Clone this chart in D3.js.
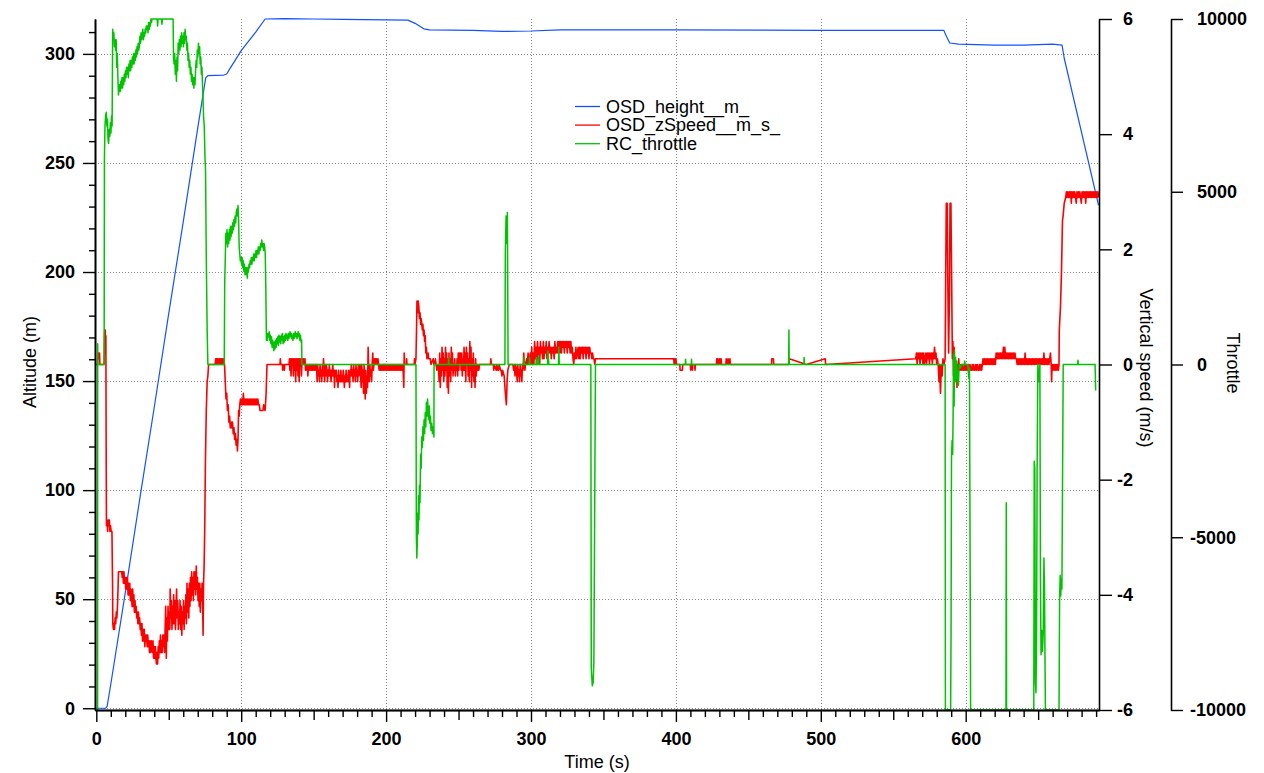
<!DOCTYPE html>
<html><head><meta charset="utf-8">
<script src="https://cdn.jsdelivr.net/npm/d3@7"></script>
<style>
html,body{margin:0;padding:0;background:#fff;}
svg{display:block;font-family:"Liberation Sans",Arial,Helvetica,sans-serif;}
</style></head><body>
<svg id="chart" width="1264" height="773"></svg>
<script>
// ---------------- DATA ----------------
const seriesNames = ["OSD_height__m_", "OSD_zSpeed__m_s_", "RC_throttle"];
const seriesColors = ["#1452ff", "#ff0000", "#00c400"];
const timeTicks = [0, 100, 200, 300, 400, 500, 600];
const altitudeTicks = [0, 50, 100, 150, 200, 250, 300];
const speedTicks = [-6, -4, -2, 0, 2, 4, 6];
const throttleTicks = [-10000, -5000, 0, 5000, 10000];

// [time s, altitude m]
const heightData = [[0,0],[6.5,0],[7.5,1],[10,11],[20,53],[30,96],[40,138],[50,181],[60,223],[70,266],[75.5,289],[77,290],[88,290.3],[90,290.8],[92,293],[100,301.5],[110,310],[116.5,316],[130,316.2],[150,316],[170,315.8],[200,315.6],[215,315.5],[220,314],[226,311.5],[230,311],[260,310.8],[280,310.3],[300,310.5],[320,311],[400,311],[500,310.8],[585,310.8],[586,309],[589,305],[595,304.5],[620,304],[640,304],[660,304.5],[666.5,304],[668,298],[691.7,230.6]];

// [time s, vertical speed m/s]
const zSpeedData = [[0,0],[0.9,0],[1.0,0.2],[1.3,0.1],[1.6,0.2],[1.9,0.1],[2.2,0.2],[2.5,0],[5.4,0],[5.6,0.4],[5.8,0.6],[6.0,0.3],[6.2,0.6],[6.4,0.2],[6.6,0.5],
[6.8,-1.4],[7.0,-2.8],[7.4,-2.7],[7.8,-2.9],[8.2,-2.7],[8.6,-2.8],[9.0,-2.7],[9.4,-2.9],[9.8,-2.8],[10.3,-2.9],[10.8,-2.9],
[11.2,-3.8],[11.4,-4.5],[11.8,-4.6],[12.2,-4.5],[12.6,-4.6],[13.0,-4.4],[13.4,-4.5],[13.8,-4.3],[14.2,-4.4],[14.6,-4.2],[15.0,-3.9],[15.3,-3.6],[16.0,-3.6],[16.8,-3.6],[17.5,-3.6],
[17.9,-3.7],[18.3,-3.6],[18.7,-3.8],[19.1,-3.6],[19.5,-3.8],[19.9,-3.7],[20.3,-3.9],[20.7,-3.7],[21.1,-3.9],[21.5,-3.7],[21.9,-4.0],[22.3,-3.8],[22.7,-4.0],[23.1,-3.8],[23.5,-4.1],[23.9,-3.9],[24.3,-4.0],[24.7,-4.2],[25.1,-3.9],[25.5,-4.2],[25.9,-4.0],[26.3,-4.3],[26.7,-4.1],[27.1,-4.3],[27.5,-4.2],[27.9,-4.4],[28.3,-4.3],[28.7,-4.5],[29.1,-4.3],[29.5,-4.5],[29.9,-4.4],[30.3,-4.6],[30.7,-4.5],[31.1,-4.7],[31.5,-4.5],[31.9,-4.8],[32.3,-4.6],[32.7,-4.8],[33.1,-4.6],[33.5,-4.9],[33.9,-4.7],[34.3,-4.8],[34.7,-4.7],[35.1,-4.9],[35.5,-4.7],[35.9,-4.9],[36.3,-4.8],[36.7,-5.0],[37.1,-4.8],[37.5,-5.0],[37.9,-4.8],[38.3,-4.9],[38.7,-5.0],[39.1,-4.8],[39.5,-5.1],[39.9,-4.9],[40.3,-5.1],[40.7,-4.9],[41.1,-5.1],[41.5,-5.2],[41.9,-5.0],[42.3,-5.2],[42.7,-4.9],[43.1,-5.1],[43.5,-4.8],[43.9,-5.0],[44.3,-4.7],[44.7,-5.0],[45.1,-4.8],[45.5,-5.0],[45.9,-4.7],[46.3,-4.9],[46.7,-4.7],[47.1,-5.0],[47.5,-4.6],[47.9,-4.2],[48.3,-5.1],[48.7,-4.4],[49.1,-4.8],[49.5,-4.2],[49.9,-4.6],[50.3,-4.3],[50.7,-4.6],[51.0,-3.9],[51.4,-4.4],[51.8,-4.1],[52.2,-4.6],[52.6,-4.2],[53.0,-4.5],[53.4,-4.0],[53.8,-4.5],[54.2,-4.1],[54.6,-4.6],[55.0,-4.2],[55.4,-3.9],[55.8,-4.4],[56.2,-4.1],[56.6,-4.6],[57.0,-4.3],[57.4,-4.5],[57.8,-4.1],[58.2,-4.6],[58.6,-4.2],[59.0,-4.7],[59.4,-4.3],[59.8,-4.5],[60.2,-4.1],[60.6,-4.6],[61.0,-4.2],[61.4,-4.4],[61.8,-4.0],[62.2,-4.5],[62.6,-3.8],[63.0,-4.3],[63.4,-3.9],[63.8,-4.4],[64.2,-3.8],[64.6,-4.2],[65.0,-3.7],[65.4,-4.1],[65.8,-3.6],[66.2,-4.0],[66.6,-3.7],[67.0,-4.1],[67.4,-3.6],[67.8,-3.9],[68.2,-3.6],[68.6,-4.0],[69.0,-3.5],[69.4,-3.9],[69.8,-3.7],[70.2,-4.1],[70.6,-3.8],[71.0,-4.2],[71.4,-3.8],[71.8,-4.3],[72.2,-3.9],[72.6,-4.1],[73.0,-3.8],[73.4,-4.2],[73.7,-4.7],[74.0,-3.8],[74.4,-3.5],[74.8,-2.9],[75.3,-1.7],[75.9,-0.8],[76.5,-0.3],[77.0,-0.2],[77.5,0],
[82.0,0],[82.4,0.1],[82.8,0],[83.2,0.1],[83.6,0],[84.0,0.1],[84.4,0],[84.8,0.1],[85.2,0],[85.6,0.1],[86.0,0],[86.4,0.1],[86.8,0],[87.2,0.1],[87.6,0],[88.0,0.1],[88.5,0],
[89.0,-0.3],[89.5,-0.6],[90.0,-0.5],[90.5,-0.8],[91.0,-0.7],[91.5,-1.0],[92.0,-0.9],[92.5,-1.1],[93.0,-1.0],[93.5,-1.1],[94.0,-1.0],[94.5,-1.2],[95.0,-1.1],[95.5,-1.3],[96.0,-1.2],[96.5,-1.4],[97.0,-1.3],[97.4,-1.5],[97.8,-1.3],[98.2,-0.8],[98.6,-0.9],[99.0,-0.7],[99.5,-0.6],[100.0,-0.7],[100.5,-0.6],[101.0,-0.7],[101.5,-0.5],[102.0,-0.7],[102.5,-0.6],[103.0,-0.7],[103.5,-0.6],[104.0,-0.7],[104.5,-0.6],[105.0,-0.7],[105.5,-0.6],[106.0,-0.7],[106.5,-0.6],[107.0,-0.7],[107.5,-0.6],[108.0,-0.7],[108.5,-0.6],[109.0,-0.7],[109.5,-0.6],[110.0,-0.7],[110.5,-0.6],[111.0,-0.7],[111.5,-0.6],[112.0,-0.7],[112.5,-0.7],[113.0,-0.8],[114.0,-0.8],[115.0,-0.8],[115.5,-0.7],[116.5,-0.8],[117.2,-0.5],[117.8,0],
[126.8,0],[127.0,0.1],[127.3,0],[128.4,0],[128.6,-0.1],[128.9,0],[129.8,-0.1],[130.1,0],[133.0,0],[133.3,0.1],[133.6,-0.1],[134.0,0.1],[134.4,-0.2],[134.8,0.1],[135.2,0],[135.6,0.1],[136.0,-0.2],[136.4,0.1],[136.8,-0.1],[137.2,0.1],[137.6,-0.3],[138.0,0.1],[138.4,-0.1],[138.8,0.1],[139.2,-0.2],[139.6,0.1],[140.0,-0.3],[140.4,0.1],[140.8,0],[141.2,0.1],[141.6,-0.2],[142.0,0.1],[142.4,0.1],[142.8,0],[143.2,0.1],[143.6,0],[144.0,0.1],[144.4,-0.1],[144.8,0],[145.2,-0.1],[145.6,0],[146.0,-0.2],[146.4,0],[146.8,-0.1],[147.2,0],[147.6,-0.1],[148.0,0],[148.4,-0.1],[148.8,0],[149.2,-0.1],[149.6,0],[150.0,-0.1],[150.4,0],[150.8,-0.1],[151.2,0],[151.6,-0.1],[152.0,0],[152.4,-0.3],[152.8,0],[153.2,-0.2],[153.6,-0.1],[154.0,-0.3],[154.4,0],[154.8,-0.2],[155.2,-0.1],[155.6,-0.3],[156.0,0],[156.4,-0.2],[156.8,0.1],[157.2,-0.1],[157.6,-0.3],[158.0,0],[158.4,-0.2],[158.8,0],[159.2,-0.1],[159.6,-0.3],[160.0,-0.1],[160.4,-0.2],[160.8,0],[161.2,-0.2],[161.6,-0.1],[162.0,-0.3],[162.4,-0.1],[162.8,-0.2],[163.2,0],[163.6,-0.2],[164.0,-0.1],[164.4,-0.4],[164.8,-0.1],[165.2,-0.2],[165.6,-0.1],[166.0,-0.3],[166.4,-0.2],[166.8,-0.4],[167.2,-0.1],[167.6,-0.3],[168.0,-0.2],[168.4,-0.3],[168.8,-0.1],[169.2,-0.3],[169.6,-0.2],[170.0,-0.3],[170.4,-0.1],[170.8,-0.2],[171.2,-0.4],[171.6,-0.2],[172.0,-0.3],[172.4,-0.1],[172.8,-0.3],[173.2,-0.2],[173.6,-0.3],[174.0,-0.1],[174.4,-0.2],[174.8,-0.4],[175.2,-0.1],[175.6,-0.2],[176.0,0],[176.4,-0.2],[176.8,-0.1],[177.2,-0.3],[177.6,0],[178.0,-0.2],[178.4,-0.1],[178.8,-0.3],[179.2,0],[179.6,-0.2],[180.0,-0.1],[180.4,-0.3],[180.8,0],[181.2,-0.2],[181.6,-0.1],[182.0,0],[182.4,-0.2],[182.8,-0.4],[183.2,0],[183.6,-0.3],[184.0,-0.1],[184.4,-0.5],[184.8,0],[185.2,-0.3],[185.6,-0.6],[186.0,-0.1],[186.4,-0.5],[186.8,-0.2],[187.2,-0.4],[187.6,0.3],[188.0,-0.1],[188.4,-0.3],[188.8,0],[189.2,-0.2],[189.6,-0.1],[190.0,-0.3],[190.4,0],[190.8,0.2],[191.2,-0.1],[191.6,0],[192.0,0.1],[192.4,0],[192.8,0.1],[193.2,0],[193.6,0.1],[194.0,0],[194.4,0.1],[194.8,0],
[195.2,-0.1],[195.6,0],[196.0,-0.1],[196.4,0],[196.8,-0.1],[197.2,0],[197.6,-0.1],[198.0,0],[198.4,-0.1],[198.8,0],[199.2,-0.1],[199.6,0],[200.0,-0.1],[200.4,0],[200.8,-0.1],[201.2,0],[201.6,-0.1],[202.0,0],[202.4,-0.1],[202.8,0],[203.2,-0.1],[203.6,0],[204.0,-0.1],[204.4,0],[204.8,-0.1],[205.2,0],[205.6,-0.1],[206.0,0],[206.4,-0.1],[206.8,0],[207.2,-0.1],[207.6,0],[208.0,-0.1],[208.4,0],[208.8,-0.1],[209.2,0],[209.6,-0.1],[210.0,0],[210.4,-0.1],[210.8,0],[211.2,-0.1],[211.6,0],[212.2,-0.4],[212.5,0.2],[212.8,0],[214.0,0],[214.2,0.1],[214.4,0],[219.4,0],[219.6,0.1],[219.9,0],[220.6,0.1],[221.0,0.6],[221.3,1.1],[221.8,0.9],[222.2,1.1],[222.6,1.0],[223.0,0.8],[223.4,0.9],[223.8,0.7],[224.2,0.8],[224.6,0.7],[225.0,0.6],[225.4,0.7],[225.8,0.5],[226.2,0.6],[226.6,0.4],[227.0,0.5],[227.4,0.2],[227.8,0.3],[228.2,0.1],[229.0,0.2],[229.4,0.1],[230.5,0.1],[231.0,0],[232.5,0.1],[233.0,0],
[233.5,0],[234.0,0.1],[234.5,0],[235.0,-0.1],[235.5,0],[236.0,0],[236.6,-0.3],[237.0,0.2],[237.4,-0.4],[237.8,0.1],[238.2,-0.2],[238.6,0.3],[239.0,-0.1],[239.4,0.2],[239.8,-0.3],[240.2,0.1],[240.6,-0.2],[241.0,0.3],[241.4,-0.1],[241.8,0.2],[242.2,-0.4],[242.6,0.1],[243.0,-0.5],[243.4,0.2],[243.8,-0.2],[244.2,0.1],[244.6,-0.3],[245.0,0.3],[245.4,-0.1],[245.8,0.2],[246.2,-0.2],[246.6,0],[247.0,-0.1],[247.4,0.1],[247.8,-0.2],[248.2,0],[248.6,-0.1],[249.0,0.1],[249.4,-0.2],[249.8,0.2],[250.2,-0.1],[250.6,0.2],[251.0,0],[251.4,0.2],[251.8,-0.1],[252.2,0.2],[252.6,-0.2],[253.0,0.1],[253.4,-0.1],[253.8,0.3],[254.2,-0.1],[254.6,0.2],[255.0,-0.3],[255.4,0.3],[255.8,0],[256.2,0.2],[256.6,-0.2],[257.0,0.1],[257.4,-0.3],[257.8,0.4],[258.2,-0.1],[258.6,0.3],[259.0,-0.4],[259.4,0.1],[259.8,-0.2],[260.2,0.2],[260.6,-0.3],[261.0,0],[261.4,-0.4],[261.8,0.1],[262.2,-0.2],[262.6,0],[263.0,-0.1],[263.4,0],[264.0,-0.1],[264.5,0],
[272.0,0],[272.3,0.1],[272.6,0],[274.0,0],[274.3,-0.1],[274.6,0],[276.0,-0.1],[276.4,0],[277.2,-0.1],[277.6,-0.1],[278.0,0],[279.0,-0.1],[279.4,-0.1],[280.0,-0.2],[280.4,-0.1],[281.5,-0.2],[282.3,-0.5],[283.0,-0.7],[283.5,-0.3],[284.0,-0.1],[285.0,0],[287.5,0],[288.0,-0.1],[288.4,0],[289.0,-0.2],[289.4,0],[290.0,-0.1],[290.5,-0.3],[290.9,0],[291.3,-0.2],[291.7,-0.1],[292.1,-0.3],[292.5,0],[292.9,-0.2],[293.3,-0.1],[293.7,-0.3],[294.1,0],[294.5,-0.1],[295.0,0.2],[295.4,0],[295.8,-0.1],[296.2,0],[297.0,0.1],[297.4,0],[298.0,0.2],[298.4,0],[299.0,0.1],[299.5,0.2],[300.0,0],[300.5,0.3],[301.0,0],[301.5,0.2],[302.0,0],[302.5,0.4],[303.0,0.1],[303.5,0.3],[304.0,0],[304.5,0.4],[305.0,0.1],[305.5,0.3],[306.0,0],[306.5,0.4],[307.0,0.2],[307.5,0.3],[308.0,0.1],[308.5,0.4],[309.0,0.1],[309.5,0.3],[310.0,0.2],[310.5,0.4],[311.0,0.1],[311.5,0.3],[312.0,0.2],[312.5,0.4],[313.0,0.2],[313.5,0.3],[314.0,0.1],[314.5,0.3],[315.0,0.2],[315.5,0.3],[316.0,0.1],[316.5,0.4],[317.0,0.2],[317.5,0.3],[318.0,0.2],[318.5,0.4],[319.0,0.2],[319.5,0.4],[320.0,0.2],[320.5,0.4],[321.0,0.2],[321.5,0.4],[322.0,0.3],[322.5,0.4],[323.0,0.2],[323.5,0.4],[324.0,0.3],[324.5,0.4],[325.0,0.2],[325.5,0.4],[326.0,0.3],[326.5,0.4],[327.0,0.2],[327.5,0.4],[328.0,0.2],[328.5,0.3],[329.0,0.1],[329.5,0],[330.0,0.2],[330.5,0.1],[331.0,0.3],[331.5,0.1],[332.0,0.2],[332.5,0.3],[333.0,0.1],[333.5,0.3],[334.0,0.1],[334.5,0.3],[335.0,0.2],[335.5,0.3],[336.0,0.1],[336.5,0.3],[337.0,0.2],[337.5,0.3],[338.0,0.1],[338.5,0.3],[339.0,0.2],[339.5,0.3],[340.0,0.1],[340.5,0.3],[341.0,0.2],[341.5,0.2],[342.0,0.1],[342.5,0.2],[343.0,0.1],[343.5,0.1],[344.0,0],[344.5,0.1],
[398.5,0.1],[398.8,0],[399.2,0.1],[399.6,0],[400.0,0.1],[400.4,0],[402.7,0],[402.9,-0.1],[404.5,-0.1],[404.7,0],[410.0,0],[410.2,-0.1],[410.5,0],[411.2,0],[411.4,-0.1],[411.7,0],[413.0,0],[413.2,-0.1],[413.5,0],[428.0,0],[428.2,0.1],[428.6,0],[429.0,0.1],[429.4,0],[430.2,0.1],[430.6,0],[431.2,0.1],[431.5,0],[434.5,0],[434.7,0.1],[435.0,0],[436.0,0.1],[436.3,0],[437.3,0.1],[437.6,0],[466.0,0],[466.2,0.1],[467.3,0.1],[467.5,0],[478.0,0],[478.2,0.1],[490.0,0],[503.1,0.1],[503.3,0],[565.5,0.1],
[566.0,0.2],[566.5,0],[567.0,0.2],[567.5,0.1],[568.0,0.2],[568.5,0],[569.0,0.2],[569.5,0.1],[570.0,0.2],[570.5,0],[571.0,0.2],[571.5,0],[572.0,0.1],[572.5,0.2],[573.0,0],[573.5,0.2],[574.0,0.1],[574.5,0.2],[575.0,0],[575.5,0.2],[576.0,0.1],[576.5,0.2],[577.0,0],[577.5,0.2],[578.0,0.1],[578.5,0.3],[579.0,0.1],[579.5,0.2],[580.0,0],[580.5,0.1],[581.0,0],[581.6,-0.3],[582.0,0],[582.6,-0.5],[583.2,0],[583.8,-0.2],[584.3,0.1],[585.0,0],[585.8,0.1],[586.2,1.5],[586.6,2.8],[587.2,2.8],[587.6,1.6],[588.2,0.2],[588.8,1.2],[589.2,2.8],[589.8,2.8],[590.3,1.5],[590.8,0.1],[591.2,0.4],[591.6,-0.2],[592.0,0.3],[592.4,-0.3],[592.8,0.1],[593.2,-0.2],[593.6,0],[594.0,-0.4],[594.4,0],[594.8,-0.1],[595.2,0.1],[595.6,-0.1],[596.0,0],[596.5,-0.1],[597.0,0],
[597.5,-0.1],[598.0,0],[598.5,-0.1],[599.0,-0.1],[599.5,0],[600.0,-0.1],[600.5,0],[601.0,-0.1],[601.5,-0.1],[602.0,0],[602.5,-0.1],[603.0,0],[603.5,-0.1],[604.0,-0.1],[604.5,0],[605.0,-0.1],[605.5,0],[606.0,-0.1],[606.5,-0.1],[607.0,0],[607.5,-0.1],[608.0,0],[608.5,-0.1],[609.0,-0.1],[609.5,0],[610.0,-0.1],[610.5,0],[611.0,-0.1],[611.5,0],[612.0,0.1],[612.5,0],[613.0,0.1],[613.5,0],[614.0,0.1],[614.5,0],[615.0,0.1],[615.5,0],[616.0,0.1],[616.5,0],[617.0,0.1],[617.5,0],[618.0,0.1],[618.5,0],[619.0,0.1],[619.5,0],[620.0,0.1],[620.5,0],[621.0,0.2],[621.5,0.1],[622.0,0.2],[622.5,0.1],[623.0,0.2],[623.5,0.1],[624.0,0.2],[624.5,0.1],[625.0,0.2],[625.5,0.1],[626.0,0.3],[626.5,0.1],[627.0,0.3],[627.5,0.1],[628.0,0.2],[628.5,0.1],[629.0,0.2],[629.5,0.1],[630.0,0.2],[630.5,0.1],[631.0,0.2],[631.5,0.1],[632.0,0.2],[632.5,0.1],[633.0,0.2],[633.5,0.1],[634.0,0.2],[634.5,0.1],[635.0,0.1],[635.5,0],[636.0,0.1],[636.5,0],[637.0,0.1],[637.5,0],[638.0,0.1],[638.5,0],[639.0,0.1],[639.5,0],[640.0,0.1],[640.5,0],[641.0,0.2],[641.5,0],[642.0,0.1],[642.5,0],[643.0,0.1],[643.5,0],[644.0,0.1],[644.5,0],[645.0,0.1],[645.5,0],[646.0,0.1],[646.5,0],[647.0,0.1],[647.5,0],[648.0,0.1],[648.5,0],[649.0,0.1],[649.5,0],[650.0,0.1],[650.5,0],[651.0,0.1],[651.5,0],[652.0,0.1],[652.5,0],[653.0,0.1],[653.5,0],[654.0,0.2],[654.5,0],[655.0,0.1],[655.5,0],[656.0,0.1],[656.5,0],[657.0,0.1],[657.5,0],[658.0,0.1],[658.5,0.2],[659.0,0],[659.3,-0.3],[659.6,0],[660.0,-0.1],[660.5,0],[661.0,-0.1],[661.5,0],[662.0,-0.1],[662.5,0],[663.0,-0.1],[663.5,0],[664.0,-0.1],[664.4,0],
[664.6,0.6],[665.4,1.0],[666.1,1.6],[666.8,2.5],[667.3,2.6],[668.0,2.8],[669.0,2.9],[669.5,3.0],[670.0,2.9],[670.5,3.0],[671.0,2.9],[671.5,3.0],[672.0,2.9],[672.5,3.0],[672.9,2.8],[673.3,3.0],[673.8,2.9],[674.3,3.0],[674.8,2.9],[675.3,3.0],[675.8,2.9],[676.3,2.8],[676.8,3.0],[677.3,2.9],[677.8,3.0],[678.3,2.9],[678.8,3.0],[679.3,2.9],[679.8,2.8],[680.3,3.0],[680.8,2.9],[681.3,3.0],[681.8,2.9],[682.3,3.0],[682.8,2.8],[683.3,3.0],[683.8,2.9],[684.3,3.0],[684.8,2.9],[685.3,3.0],[685.8,2.9],[686.3,3.0],[686.8,2.9],[687.3,3.0],[687.8,2.9],[688.3,3.0],[688.8,2.9],[689.3,3.0],[689.8,2.9],[690.3,3.0],[690.8,2.9],[691.3,3.0],[691.8,2.9]];

// [time s, throttle]
const throttleData = [[0.5,-10000],[0.9,-10000],[0.95,600],[1.05,0],[5.4,0],[5.6,6000],[6.0,6900],[6.4,7200],[6.9,7300],[7.3,6900],[7.7,7100],[8.1,6500],[8.5,6400],[8.9,6800],[9.3,6600],[9.7,7000],[10.1,6700],[10.5,7200],[10.9,6900],[11.3,9700],[11.7,9500],[12.1,9600],[12.5,9200],[12.9,9400],[13.3,9100],[13.7,9400],[14.1,8600],[14.5,9000],[14.9,8300],[15.3,7800],[15.7,8000],[16.1,8100],[16.5,7900],[16.9,8200],[17.3,8000],[17.7,8300],[18.1,8000],[18.5,8300],[18.9,8100],[19.3,8400],[19.7,8200],[20.1,8500],[20.5,8300],[20.9,8600],[21.3,8400],[21.7,8600],[22.1,8300],[22.5,8700],[22.9,8500],[23.3,8800],[23.7,8500],[24.1,8800],[24.5,8600],[24.9,8900],[25.3,8700],[25.7,9000],[26.1,8700],[26.5,9000],[26.9,8800],[27.3,9100],[27.7,8900],[28.1,9200],[28.5,9000],[28.9,9300],[29.3,9100],[29.7,9200],[30.1,9500],[30.5,9300],[30.9,9600],[31.3,9400],[31.7,9500],[32.1,9700],[32.5,9400],[32.9,9600],[33.3,9500],[33.7,9700],[34.1,9600],[34.5,9800],[34.9,9700],[35.3,9800],[35.7,9600],[36.1,9900],[36.5,9700],[36.9,9900],[37.3,9800],[37.7,10000],[38.1,9900],[38.4,10000],[42.0,10000],[42.3,9800],[42.6,10000],[45.0,10000],[45.3,9850],[45.6,10000],[53.0,10000],[53.3,8900],[53.7,8700],[54.1,9000],[54.5,8400],[54.9,8800],[55.3,8200],[55.7,8900],[56.1,8500],[56.5,9300],[56.9,9000],[57.3,9400],[57.7,9100],[58.1,9500],[58.5,9200],[58.9,9600],[59.3,9300],[59.7,9500],[60.1,9200],[60.5,9600],[60.9,9300],[61.3,9700],[61.7,9400],[62.1,9500],[62.5,9100],[62.9,9300],[63.3,8800],[63.7,9000],[64.1,8600],[64.5,8800],[64.9,8400],[65.3,8600],[65.7,8200],[66.1,8400],[66.5,8100],[66.9,8300],[67.3,8000],[67.7,8300],[68.1,8100],[68.5,8500],[68.9,8800],[69.3,8600],[69.7,9100],[70.1,8900],[70.5,9300],[70.9,9000],[71.3,9200],[71.7,8700],[72.1,8900],[72.5,8400],[72.9,8600],[73.3,8100],[73.6,7800],[74.0,7200],[74.5,6900],[75.0,6000],[75.4,5600],[75.9,3100],[76.5,1000],[77.0,0],
[88.3,0],[88.6,2300],[89.4,3800],[89.8,3500],[90.2,3900],[90.6,3400],[91.0,3800],[91.4,3500],[91.8,3900],[92.2,3600],[92.6,4000],[93.0,3700],[93.4,4000],[93.8,3800],[94.2,4100],[94.6,3900],[95.0,4200],[95.4,4000],[95.8,4300],[96.2,4100],[96.6,4400],[97.0,4500],[97.4,4300],[97.8,4600],[98.2,4200],[98.6,3400],[99.0,3200],[99.4,3000],[99.8,3100],[100.2,2900],[100.6,3100],[101.0,2800],[101.4,3000],[101.8,2700],[102.2,2900],[102.6,2600],[103.0,2800],[103.4,2600],[103.8,2800],[104.2,2500],[104.6,2800],[105.0,2700],[105.4,2900],[105.8,2800],[106.2,3000],[106.6,2900],[107.0,3100],[107.4,2900],[107.8,3100],[108.2,3000],[108.6,3200],[109.0,3000],[109.4,3200],[109.8,3100],[110.2,3300],[110.6,3100],[111.0,3300],[111.4,3200],[111.8,3400],[112.2,3200],[112.6,3400],[113.0,3300],[113.4,3500],[113.8,3400],[114.2,3600],[114.6,3400],[115.0,3500],[115.4,3300],[115.8,3500],[116.2,3400],[116.6,3200],[117.0,2200],[117.4,700],
[117.7,900],[118.1,700],[118.5,900],[118.9,800],[119.3,950],[119.7,700],[120.1,850],[120.5,600],[120.9,800],[121.3,500],[121.7,700],[122.1,600],[122.5,400],[122.9,650],[123.3,450],[123.7,700],[124.1,500],[124.5,750],[124.9,600],[125.3,800],[125.7,550],[126.1,850],[126.5,650],[126.9,800],[127.3,600],[127.7,850],[128.1,700],[128.5,900],[128.9,600],[129.3,800],[129.7,650],[130.1,850],[130.5,700],[130.9,900],[131.3,750],[131.7,850],[132.1,700],[132.5,900],[132.9,750],[133.3,850],[133.7,950],[134.1,800],[134.5,900],[134.9,750],[135.3,850],[135.7,700],[136.1,900],[136.5,750],[136.9,850],[137.3,950],[137.7,800],[138.1,900],[138.5,750],[138.9,850],[139.3,950],[139.7,800],[140.1,900],[140.5,700],[140.9,850],[141.3,650],[141.7,700],[141.9,0],
[220.6,0],[220.9,-5000],[221.2,-5600],[221.5,-5200],[221.8,-4300],[222.1,-4900],[222.4,-3800],[222.7,-4500],[223.0,-3500],[223.4,-4000],[223.8,-2600],[224.2,-3000],[224.6,-2100],[225.0,-2400],[225.4,-1800],[225.8,-2200],[226.2,-1600],[226.6,-2000],[227.0,-1400],[227.4,-1800],[227.8,-1100],[228.2,-1500],[228.6,-1000],[229.0,-1300],[229.4,-1600],[229.8,-1200],[230.2,-1700],[230.6,-1500],[231.0,-1900],[231.5,-1700],[232.0,-2000],[232.6,-1800],[233.0,-2100],[233.1,0],
[243.0,0],[243.2,200],[243.4,0],[282.0,0],[282.3,3300],[282.8,4300],[283.2,3500],[283.7,4400],[284.2,0],[295.0,0],[295.2,200],[295.4,0],[298.8,0],[299.0,200],[299.2,0],[303.5,0],[303.7,200],[303.9,0],[305.0,0],[305.2,250],[305.4,0],[311.5,0],[311.7,400],[312.0,200],[312.3,0],[319.0,0],[319.2,500],[319.5,0],
[341.3,0],[341.6,-8800],[342.3,-9300],[342.9,-9200],[343.4,-8600],[344.1,-3000],[344.5,0],[406.5,0],[406.7,150],[406.9,0],[410.6,0],[410.8,150],[411.0,0],[477.8,0],[478.0,1000],[478.2,0],[488.3,0],[488.5,200],[488.7,0],
[585.8,0],[586.0,-10000],[589.6,-10000],[589.9,-7700],[590.2,-2700],[590.6,-2200],[591.0,-2600],[591.3,-1500],[591.6,300],[592.0,-1200],[592.3,400],[592.7,-500],[593.0,200],[593.4,-400],[593.8,100],[594.2,-500],[594.6,-200],[595.0,-600],[595.5,0],[596.5,-100],[597.0,0],[599.0,0],[599.3,100],[599.6,0],[601.5,0],[601.8,-200],[602.2,-400],[602.6,-100],[603.4,-10000],[627.8,-10000],[628.0,-4000],[628.2,-10000],[647.0,-10000],[647.3,-2800],[647.7,-3000],[648.1,-9200],[648.5,-9500],[648.9,-8000],[649.3,-3000],[649.8,0],[650.5,-500],[651.2,0],[651.6,-6300],[652.0,-8400],[652.5,-7700],[653.0,-8300],[653.5,-7800],[654.0,-5600],[654.4,-6500],[655.0,-10000],[664.4,-10000],[664.8,-6800],[665.2,-6100],[665.6,-6700],[666.0,-6200],[666.4,-6500],[667.1,-1500],[667.3,0],[677.3,0],[677.5,120],[677.7,0],[689.3,0],[689.7,-750]];

// ---------------- CHART ----------------
const L = 95, R = 1099, T = 19, B = 710, AX3 = 1171;
const svg = d3.select("#chart");
const x = d3.scaleLinear().domain([-0.9, 692]).range([L, R]);
const yAlt = d3.scaleLinear().domain([-0.8, 316]).range([B, T]);
const ySpd = d3.scaleLinear().domain([-6, 6]).range([B, T]);
const yThr = d3.scaleLinear().domain([-10000, 10000]).range([B, T]);

// grid
const grid = svg.append("g").attr("stroke", "#8a8a8a").attr("stroke-width", 1).attr("stroke-dasharray", "1,2");
grid.selectAll("line.h").data(altitudeTicks).join("line").attr("class", "h")
  .attr("x1", L).attr("x2", R).attr("y1", d => Math.round(yAlt(d)) + 0.5).attr("y2", d => Math.round(yAlt(d)) + 0.5);
grid.selectAll("line.v").data(timeTicks.filter(d => d > 0)).join("line").attr("class", "v")
  .attr("y1", T).attr("y2", B).attr("x1", d => Math.round(x(d)) + 0.5).attr("x2", d => Math.round(x(d)) + 0.5);

// clip
svg.append("clipPath").attr("id", "clip").append("rect").attr("x", L).attr("y", T - 3).attr("width", R - L).attr("height", B - T + 6);
const plot = svg.append("g").attr("clip-path", "url(#clip)");
const lineH = d3.line().x(d => x(d[0])).y(d => yAlt(d[1]));
const lineS = d3.line().x(d => x(d[0])).y(d => ySpd(d[1]));
const lineT = d3.line().x(d => x(d[0])).y(d => yThr(d[1]));
plot.append("path").datum(heightData).attr("d", lineH).attr("fill", "none").attr("stroke", seriesColors[0]).attr("stroke-width", 1.2).attr("stroke-linejoin", "round");
plot.append("path").datum(zSpeedData).attr("d", lineS).attr("fill", "none").attr("stroke", seriesColors[1]).attr("stroke-width", 1.6).attr("stroke-linejoin", "round");
plot.append("path").datum(throttleData).attr("d", lineT).attr("fill", "none").attr("stroke", seriesColors[2]).attr("stroke-width", 1.5).attr("stroke-linejoin", "round");

// axes
function styleAxis(g) {
  g.selectAll("path.domain").attr("stroke", "#000").attr("stroke-width", 1.6);
  g.selectAll(".tick line").attr("stroke", "#000").attr("stroke-width", 1.4);
  g.selectAll("text").attr("font-size", 18).attr("font-weight", "bold").attr("fill", "#000")
   .attr("font-family", "'Liberation Sans', Arial, sans-serif");
}
const fmt = d => String(d);
const minorT = d3.range(0, 691, 10).filter(d => d % 50 !== 0);
const midT = d3.range(50, 691, 100);
svg.append("g").attr("transform", `translate(0,${B})`)
  .call(d3.axisBottom(x).tickValues(minorT).tickSize(7).tickFormat("").tickSizeOuter(0)).call(styleAxis);
svg.append("g").attr("transform", `translate(0,${B})`)
  .call(d3.axisBottom(x).tickValues(midT).tickSize(10).tickFormat("").tickSizeOuter(0)).call(styleAxis);
svg.append("g").attr("transform", `translate(0,${B})`)
  .call(d3.axisBottom(x).tickValues(timeTicks).tickSize(12).tickPadding(10).tickFormat(fmt).tickSizeOuter(0)).call(styleAxis);

const minorA = d3.range(0, 316, 10).filter(d => d % 50 !== 0);
svg.append("g").attr("transform", `translate(${L},0)`)
  .call(d3.axisLeft(yAlt).tickValues(minorA).tickSize(6).tickFormat("").tickSizeOuter(0)).call(styleAxis);
svg.append("g").attr("transform", `translate(${L},0)`)
  .call(d3.axisLeft(yAlt).tickValues(altitudeTicks).tickSize(12).tickPadding(8).tickFormat(fmt).tickSizeOuter(0)).call(styleAxis);

const gS = svg.append("g").attr("transform", `translate(${R},0)`)
  .call(d3.axisRight(ySpd).tickValues(speedTicks).tickSize(13).tickFormat(fmt).tickSizeOuter(0)).call(styleAxis);
gS.selectAll(".tick text").attr("x", 34).attr("text-anchor", "end");

const gT = svg.append("g").attr("transform", `translate(${AX3},0)`)
  .call(d3.axisRight(yThr).tickValues(throttleTicks).tickSize(12).tickFormat(fmt).tickSizeOuter(0)).call(styleAxis);
gT.selectAll(".tick text").attr("x", d => d < 0 ? 19 : 26).attr("text-anchor", "start");

// axis titles
const titleFont = {"font-size": 18, "fill": "#000"};
function title(txt, tx, ty, rot) {
  const t = svg.append("text").attr("transform", `translate(${tx},${ty}) rotate(${rot})`)
    .attr("text-anchor", "middle").text(txt);
  Object.entries(titleFont).forEach(([k, v]) => t.attr(k, v));
}
title("Time (s)", (L + R) / 2, 768, 0);
title("Altitude (m)", 36, 362, -90);
title("Vertical speed (m/s)", 1140, 368, 90);
title("Throttle", 1227, 363, 90);

// legend
const leg = svg.append("g");
seriesNames.forEach((n, i) => {
  const ly = 106.5 + i * 18.6;
  leg.append("line").attr("x1", 575).attr("x2", 600).attr("y1", ly).attr("y2", ly)
    .attr("stroke", seriesColors[i]).attr("stroke-width", 1.3);
  leg.append("text").attr("x", 606).attr("y", ly + 6).attr("font-size", 18).attr("fill", "#000").text(n);
});
</script>
</body></html>
